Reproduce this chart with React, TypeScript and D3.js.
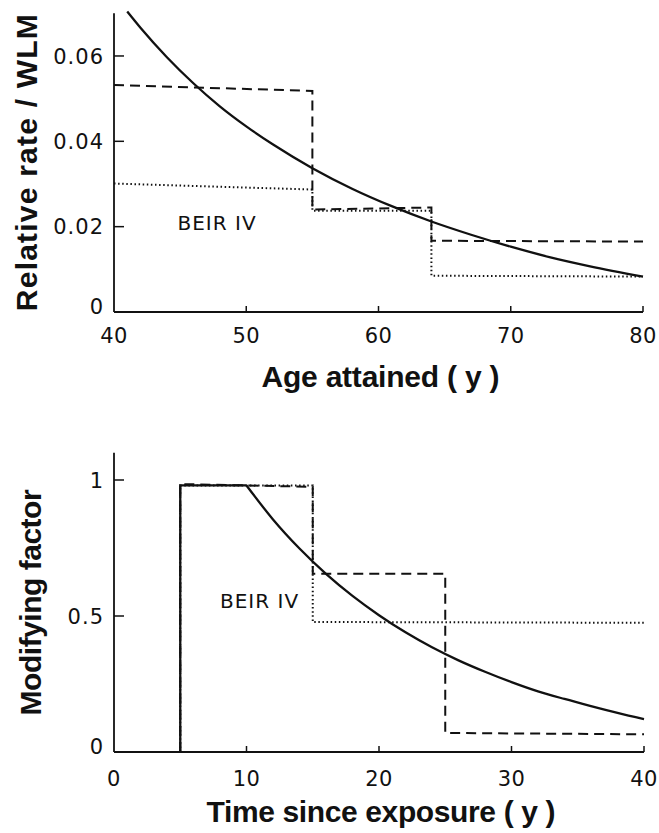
import React from "react";
import * as d3 from "d3";

// ---------- Data: top panel (Age attained) ----------
const topAges = [41, 42, 44, 46, 48, 50, 52, 55, 58, 61, 64, 67, 70, 73, 76, 80];
const topCurve = [0.0704, 0.0666, 0.0597, 0.0536, 0.0482, 0.0435, 0.0393, 0.0337, 0.0289, 0.0248, 0.0212, 0.0181, 0.0153, 0.0128, 0.0107, 0.0083];
const topDashedX = [40, 55, 55, 64, 64, 80];
const topDashedY = [0.0532, 0.0518, 0.024, 0.0245, 0.0167, 0.0165];
const topDottedX = [40, 55, 55, 64, 64, 80];
const topDottedY = [0.0301, 0.0287, 0.0237, 0.0237, 0.0085, 0.0083];
const topXTicks = [40, 50, 60, 70, 80];
const topYTicks = [0, 0.02, 0.04, 0.06];
const topYTickLabels = ["0", "0.02", "0.04", "0.06"];

// ---------- Data: bottom panel (Time since exposure) ----------
const botStepX = [5, 5, 10];
const botStepY = [0, 0.98, 0.98];
const botTimes = [10, 12, 14, 16, 18, 20, 22, 24, 26, 28, 30, 32, 34, 36, 38, 40];
const botCurve = [0.98, 0.855, 0.748, 0.655, 0.574, 0.503, 0.44, 0.385, 0.337, 0.295, 0.257, 0.223, 0.195, 0.169, 0.144, 0.121];
const botDashedX = [5, 5, 15, 15, 25, 25, 40];
const botDashedY = [0, 0.985, 0.975, 0.655, 0.655, 0.07, 0.065];
const botDottedX = [5, 5, 15, 15, 40];
const botDottedY = [0, 0.98, 0.98, 0.478, 0.475];
const botXTicks = [0, 10, 20, 30, 40];
const botYTicks = [0, 0.5, 1];
const botYTickLabels = ["0", "0.5", "1"];

const annotation = "BEIR IV";
const topAnnot = [44.8, 0.0193];
const botAnnot = [8.0, 0.531];

const W = 659;
const H = 833;

const tickFont = "'DejaVu Sans', sans-serif";
const titleFont = "'Liberation Sans', Arial, sans-serif";

type P = [number, number];
const zip = (xs: number[], ys: number[]): P[] => xs.map((x, i) => [x, ys[i]]);

function Panel(props: {
  x: d3.ScaleLinear<number, number>;
  y: d3.ScaleLinear<number, number>;
  xTicks: number[];
  yTicks: number[];
  yTickLabels: string[];
  solidParts: { pts: P[]; smooth: boolean }[];
  dashed: P[];
  dotted: P[];
  annot: number[];
  xLabel: string;
  xLabelY: number;
  xLabelLen: number;
  yLabel: string;
  yLabelX: number;
  yLabelLen: number;
  xTickLabelDy: number;
}) {
  const { x, y } = props;
  const [x0, x1] = x.range();
  const [yb, yt] = y.range();
  const lin = d3
    .line<P>()
    .x((d) => x(d[0]))
    .y((d) => y(d[1]));
  const smooth = d3
    .line<P>()
    .x((d) => x(d[0]))
    .y((d) => y(d[1]))
    .curve(d3.curveMonotoneX);
  const cx = (x0 + x1) / 2 + 2;
  const cy = (yb + yt) / 2;
  return (
    <g>
      {/* axes */}
      <line x1={x0} x2={x0} y1={yt} y2={yb} stroke="#111" strokeWidth={1.8} />
      <line x1={x0} x2={x1} y1={yb} y2={yb} stroke="#111" strokeWidth={1.8} />
      {props.yTicks.map((t, i) => (
        <g key={"yt" + i}>
          {t !== 0 && (
            <line x1={x0} x2={x0 + 10} y1={y(t)} y2={y(t)} stroke="#111" strokeWidth={1.5} />
          )}
          <text
            x={x0 - 10}
            y={y(t) + (t === 0 ? -6 : 0)}
            dy="0.36em"
            textAnchor="end"
            fontFamily={tickFont}
            fontSize={21}
            letterSpacing={1}
            fill="#111"
          >
            {props.yTickLabels[i]}
          </text>
        </g>
      ))}
      {props.xTicks.map((t, i) => (
        <g key={"xt" + i}>
          {t !== props.xTicks[0] && (
            <line x1={x(t)} x2={x(t)} y1={yb} y2={yb - 6} stroke="#111" strokeWidth={1.5} />
          )}
          <text
            x={x(t)}
            y={yb + props.xTickLabelDy}
            dy="0.36em"
            textAnchor="middle"
            fontFamily={tickFont}
            fontSize={21}
            letterSpacing={0.5}
            fill="#111"
          >
            {t}
          </text>
        </g>
      ))}
      {/* series */}
      <path d={lin(props.dotted) || ""} fill="none" stroke="#111" strokeWidth={2} strokeDasharray="1.5,2.6" />
      <path d={lin(props.dashed) || ""} fill="none" stroke="#111" strokeWidth={2} strokeDasharray="10,6" />
      {props.solidParts.map((s, i) => (
        <path
          key={"s" + i}
          d={(s.smooth ? smooth(s.pts) : lin(s.pts)) || ""}
          fill="none"
          stroke="#111"
          strokeWidth={2.3}
        />
      ))}
      <text
        x={x(props.annot[0])}
        y={y(props.annot[1])}
        fontFamily={tickFont}
        fontSize={20}
        letterSpacing={1}
        fill="#111"
      >
        {annotation}
      </text>
      {/* labels */}
      <text
        x={cx}
        y={props.xLabelY}
        textAnchor="middle"
        fontFamily={titleFont}
        fontWeight="bold"
        fontSize={30}
        fill="#111"
        textLength={props.xLabelLen}
        lengthAdjust="spacing"
      >
        {props.xLabel}
      </text>
      <text
        transform={`translate(${props.yLabelX},${cy}) rotate(-90)`}
        textAnchor="middle"
        fontFamily={titleFont}
        fontWeight="bold"
        fontSize={30}
        fill="#111"
        textLength={props.yLabelLen}
        lengthAdjust="spacing"
      >
        {props.yLabel}
      </text>
    </g>
  );
}

export default function App() {
  const xTop = d3.scaleLinear().domain([40, 80]).range([114, 643]);
  const yTop = d3.scaleLinear().domain([0, 0.07]).range([312, 13.3]);
  const xBot = d3.scaleLinear().domain([0, 40]).range([114, 644]);
  const yBot = d3.scaleLinear().domain([0, 1.1]).range([752, 452.8]);

  return (
    <svg
      width={W}
      height={H}
      viewBox={`0 0 ${W} ${H}`}
      style={{ position: "absolute", left: 0, top: 0, background: "#fff" }}
    >
      <rect x={0} y={0} width={W} height={H} fill="#fff" />
      <Panel
        x={xTop}
        y={yTop}
        xTicks={topXTicks}
        yTicks={topYTicks}
        yTickLabels={topYTickLabels}
        solidParts={[{ pts: zip(topAges, topCurve), smooth: true }]}
        dashed={zip(topDashedX, topDashedY)}
        dotted={zip(topDottedX, topDottedY)}
        annot={topAnnot}
        xLabel="Age  attained  ( y )"
        xLabelY={387}
        xLabelLen={238}
        yLabel="Relative  rate  /  WLM"
        yLabelX={37}
        yLabelLen={297}
        xTickLabelDy={23}
      />
      <Panel
        x={xBot}
        y={yBot}
        xTicks={botXTicks}
        yTicks={botYTicks}
        yTickLabels={botYTickLabels}
        solidParts={[
          { pts: zip(botStepX, botStepY), smooth: false },
          { pts: zip(botTimes, botCurve), smooth: true },
        ]}
        dashed={zip(botDashedX, botDashedY)}
        dotted={zip(botDottedX, botDottedY)}
        annot={botAnnot}
        xLabel="Time  since  exposure  ( y )"
        xLabelY={822}
        xLabelLen={349}
        yLabel="Modifying  factor"
        yLabelX={41}
        yLabelLen={226}
        xTickLabelDy={26}
      />
    </svg>
  );
}
